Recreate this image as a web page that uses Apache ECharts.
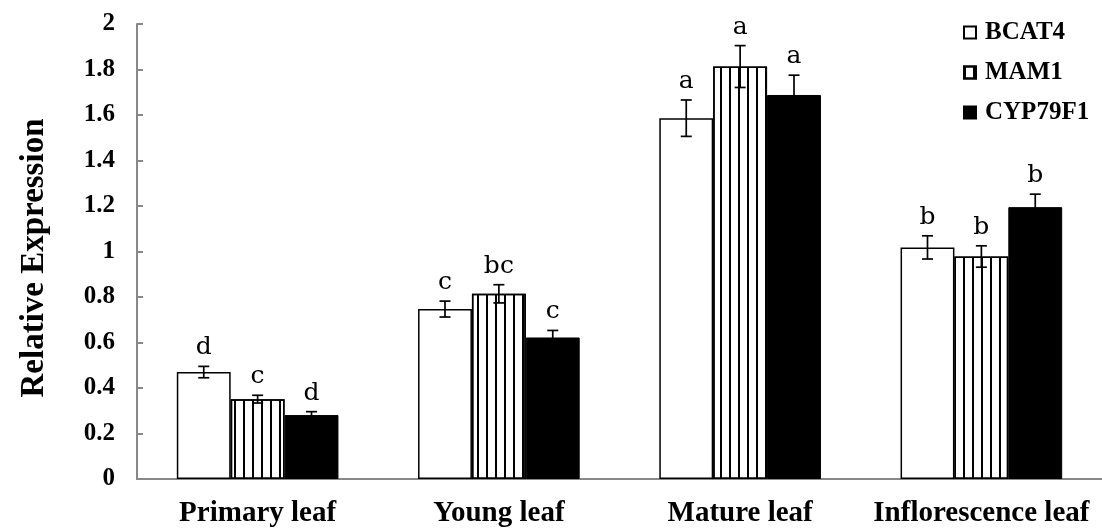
<!DOCTYPE html>
<html>
<head>
<meta charset="utf-8">
<script src="https://cdn.jsdelivr.net/npm/echarts@6/dist/echarts.min.js"></script>
<style>html,body{margin:0;padding:0;background:#fff;}#c{width:1102px;height:528px;}</style>
</head>
<body>
<div id="c"></div>
<script>
var categories = ['Primary leaf', 'Young leaf', 'Mature leaf', 'Inflorescence leaf'];
var seriesNames = ['BCAT4', 'MAM1', 'CYP79F1'];
var bcat4 = [0.470, 0.747, 1.586, 1.018];
var mam1 = [0.351, 0.814, 1.813, 0.978];
var cyp79f1 = [0.281, 0.622, 1.688, 1.195];
var bcat4Err = [0.025, 0.035, 0.080, 0.051];
var mam1Err = [0.017, 0.040, 0.092, 0.047];
var cyp79f1Err = [0.015, 0.031, 0.087, 0.057];
var bcat4Sig = ['d', 'c', 'a', 'b'];
var mam1Sig = ['c', 'bc', 'a', 'b'];
var cyp79f1Sig = ['d', 'c', 'a', 'b'];
var yTicks = [0, 0.2, 0.4, 0.6, 0.8, 1, 1.2, 1.4, 1.6, 1.8, 2];

var values = [bcat4, mam1, cyp79f1];
var errs = [bcat4Err, mam1Err, cyp79f1Err];
var sigs = [bcat4Sig, mam1Sig, cyp79f1Sig];
var CAT_GAP = 0.33;

var errData = [];
for (var s = 0; s < 3; s++) {
  for (var c = 0; c < categories.length; c++) {
    errData.push([c, values[s][c], errs[s][c], s]);
  }
}

var serifBold = {fontFamily: 'Liberation Serif', fontWeight: 'bold', color: '#000'};

var chart = echarts.init(document.getElementById('c'));
chart.setOption({
  animation: false,
  backgroundColor: '#fff',
  grid: {left: 137, top: 24, width: 969, height: 455, containLabel: false},
  legend: {
    orient: 'vertical', left: 958, top: 15, itemGap: 15,
    itemWidth: 12, itemHeight: 12, icon: 'rect',
    data: seriesNames,
    textStyle: Object.assign({fontSize: 25, padding: [0, 0, 0, 4]}, serifBold)
  },
  xAxis: {
    type: 'category', data: categories,
    axisLine: {lineStyle: {color: '#888', width: 2}},
    axisTick: {show: false},
    axisLabel: Object.assign({fontSize: 29, margin: 20, interval: 0}, serifBold)
  },
  yAxis: {
    type: 'value', min: 0, max: 2, interval: 0.2,
    axisLine: {show: true, lineStyle: {color: '#888', width: 2}},
    axisTick: {show: true, inside: true, length: 6, lineStyle: {color: '#888', width: 2}},
    splitLine: {show: false},
    axisLabel: Object.assign({fontSize: 25, margin: 22, formatter: function (v) {
      for (var i = 0; i < yTicks.length; i++) { if (Math.abs(yTicks[i] - v) < 1e-6) return String(yTicks[i]); }
      return '';
    }}, serifBold)
  },
  graphic: [{
    type: 'text', x: 34, y: 258, rotation: Math.PI / 2,
    style: {text: 'Relative Expression', fontFamily: 'Liberation Serif', fontWeight: 'bold', fontSize: 33,
      fill: '#000', textAlign: 'center', textVerticalAlign: 'middle'}
  }],
  series: [
    {name: 'BCAT4', type: 'bar', data: bcat4, barGap: '0%', barCategoryGap: (CAT_GAP * 100) + '%',
      itemStyle: {color: '#fff', borderColor: '#000', borderWidth: 1.5}},
    {name: 'MAM1', type: 'bar', data: mam1, barGap: '0%', barCategoryGap: (CAT_GAP * 100) + '%',
      itemStyle: {color: '#fff', borderColor: '#000', borderWidth: 1.5,
        decal: {symbol: 'rect', symbolSize: 1, symbolKeepAspect: false, dashArrayX: [1.5, 6.5], dashArrayY: [10, 0], color: '#000', rotation: 0}}},
    {name: 'CYP79F1', type: 'bar', data: cyp79f1, barGap: '0%', barCategoryGap: (CAT_GAP * 100) + '%',
      itemStyle: {color: '#000', borderColor: '#000', borderWidth: 1}},
    {
      type: 'custom', z: 10, silent: true,
      data: errData,
      encode: {x: 0, y: 1},
      renderItem: function (params, api) {
        var c = api.value(0), v = api.value(1), e = api.value(2), s = api.value(3);
        var band = api.size([1, 0])[0];
        var bw = band * (1 - CAT_GAP) / 3;
        var cx = api.coord([c, 0])[0] + (s - 1) * bw;
        var yt = api.coord([c, v + e])[1];
        var yb = api.coord([c, v - e])[1];
        var cap = 5.5;
        var ls = {stroke: '#000', lineWidth: 1.7};
        return {
          type: 'group',
          children: [
            {type: 'line', shape: {x1: cx, y1: yt, x2: cx, y2: yb}, style: ls},
            {type: 'line', shape: {x1: cx - cap, y1: yt, x2: cx + cap, y2: yt}, style: ls},
            {type: 'line', shape: {x1: cx - cap, y1: yb, x2: cx + cap, y2: yb}, style: ls},
            {type: 'text', x: cx, y: yt - 6, style: {text: sigs[s][c], fontFamily: 'DejaVu Serif', fontSize: 25,
              fill: '#000', textAlign: 'center', textVerticalAlign: 'bottom'}}
          ]
        };
      }
    }
  ]
});
</script>
</body>
</html>
